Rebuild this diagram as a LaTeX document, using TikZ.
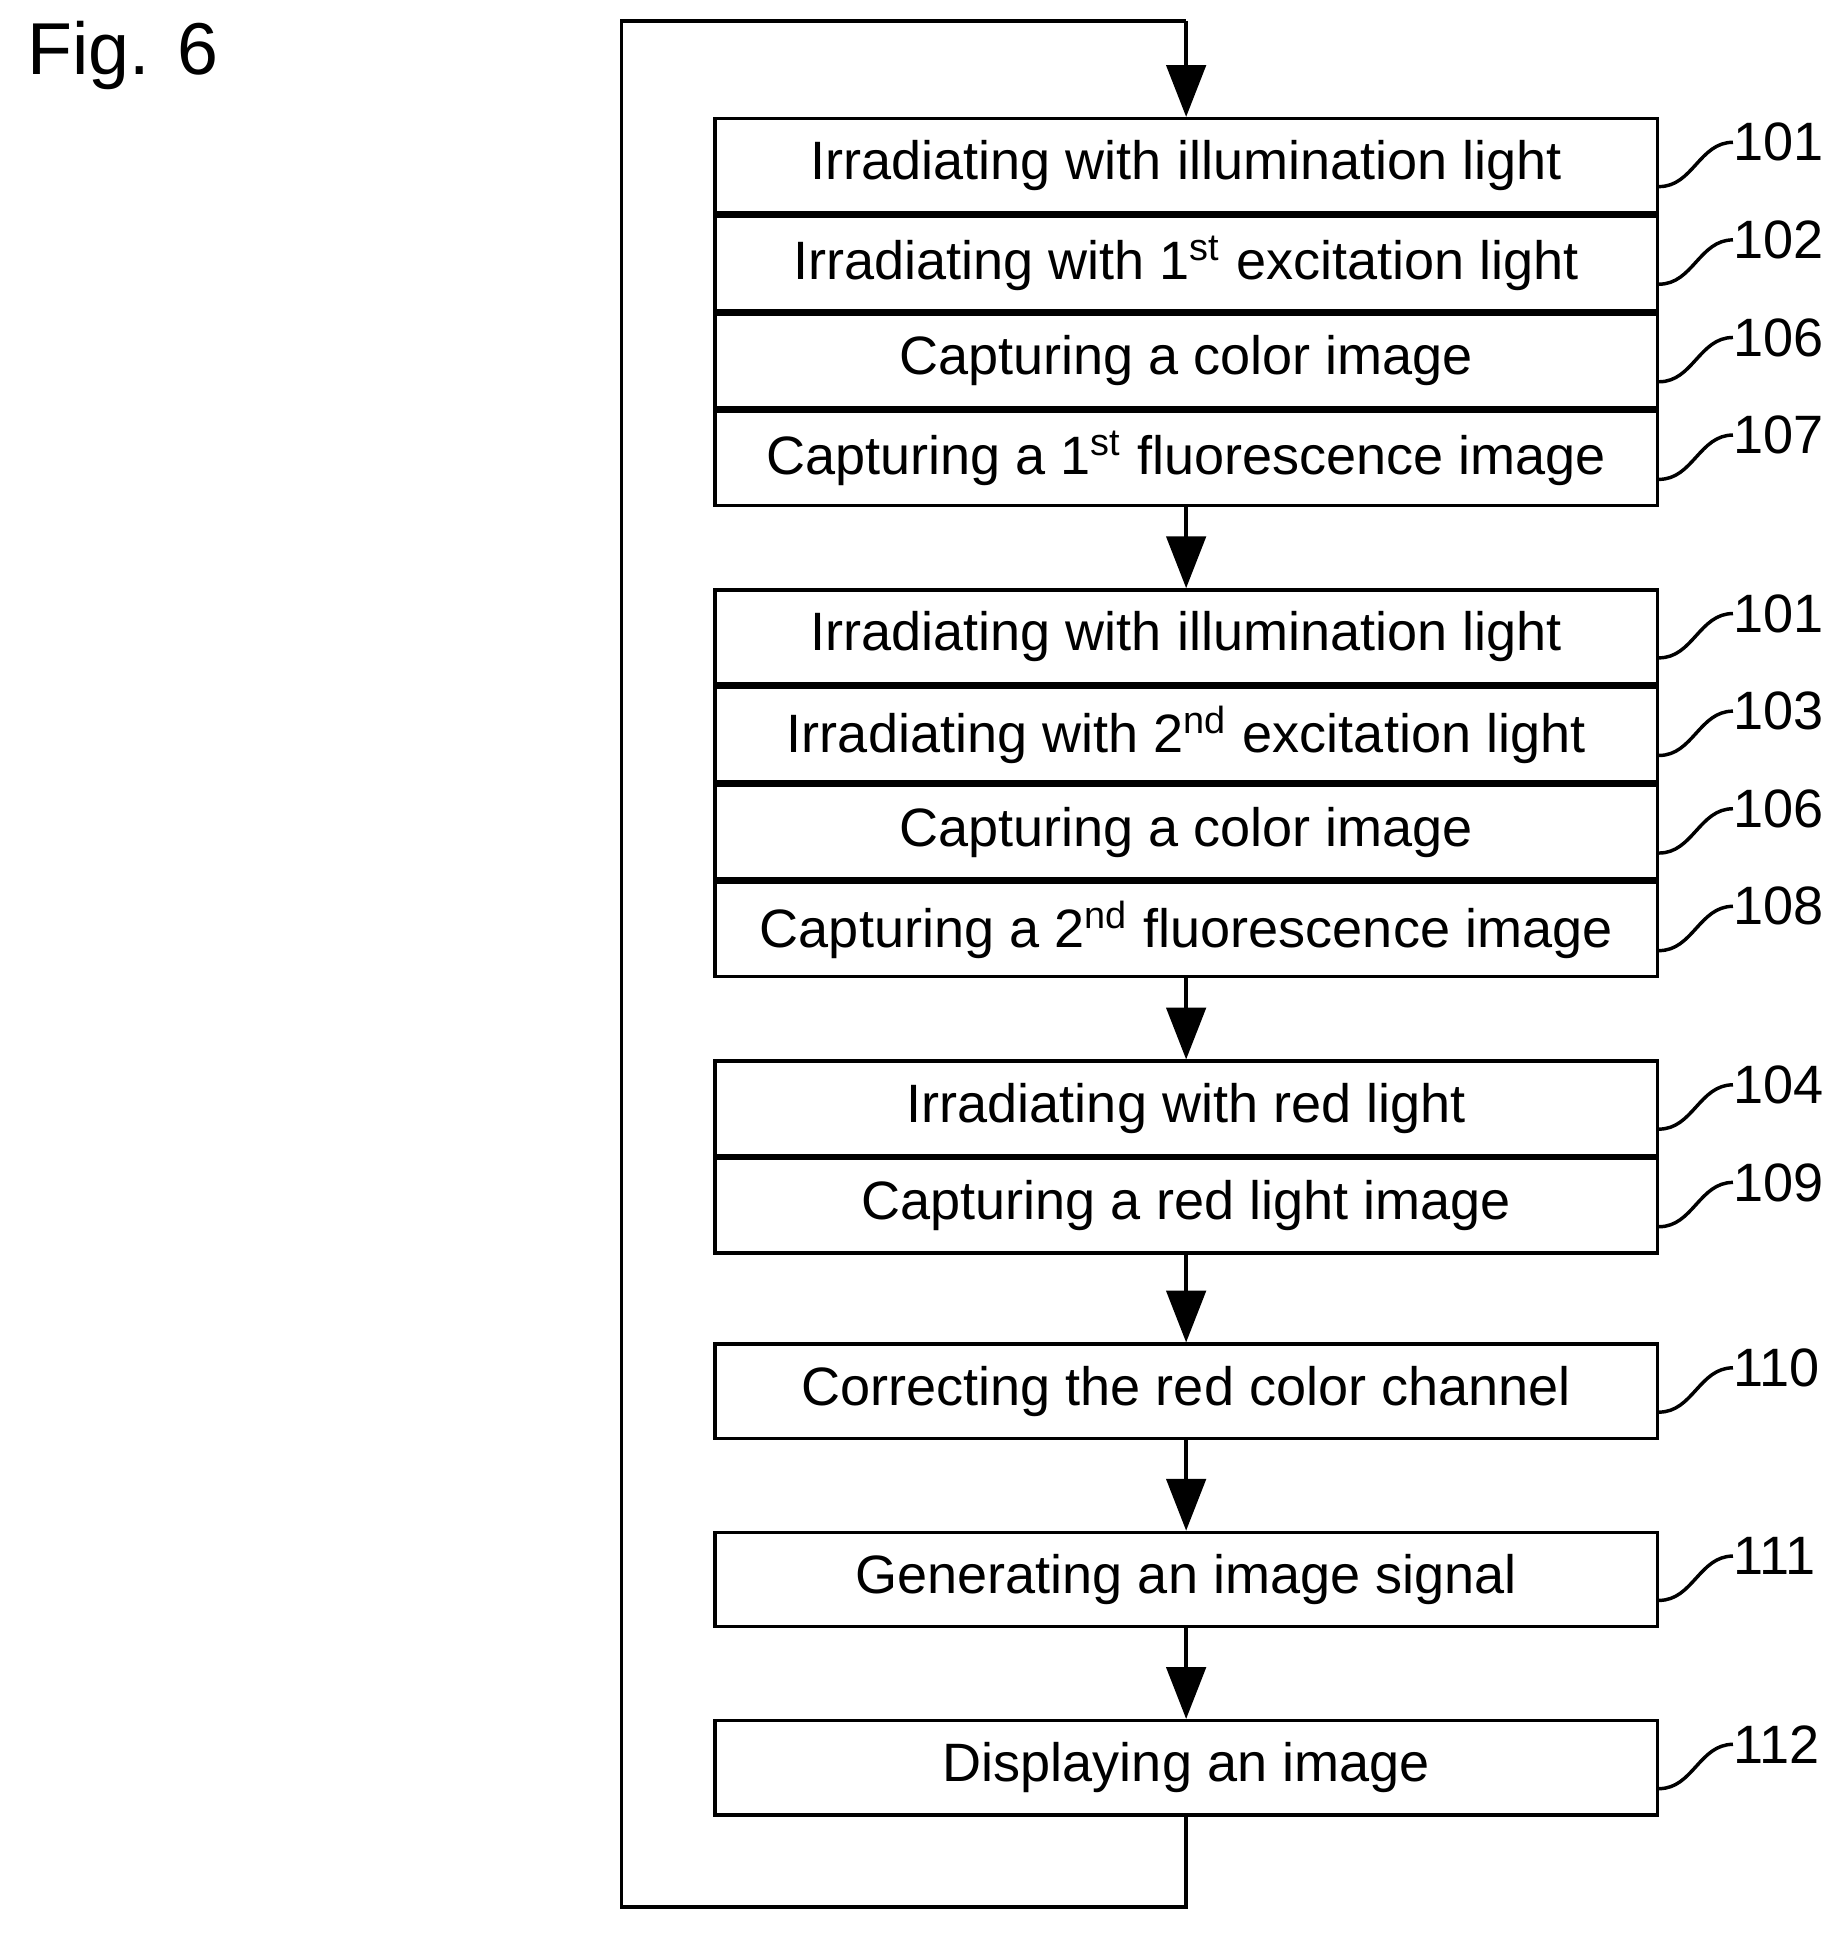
\documentclass[tikz,border=0pt]{standalone}
\usepackage{fontspec}
\setmainfont{Liberation Sans}
\usetikzlibrary{arrows.meta,positioning}
\begin{document}
\begin{tikzpicture}[
  stage/.style={draw, thick, minimum width=7.66cm, minimum height=0.765cm, inner sep=0pt, font=\fontsize{12.5}{14}\selectfont},
  ref/.style={anchor=west, inner sep=0pt, font=\fontsize{12.5}{14}\selectfont},
  flow/.style={-{Triangle[length=0.42cm,width=0.32cm]}, thick},
  lead/.style={thick},
]
\useasboundingbox (0,0) rectangle (15,-15.71);

\node[anchor=west, font=\fontsize{17}{20}\selectfont] (fig) at (0.1,-0.45) {Fig. 6};

% first group
\node[stage, anchor=north] (s101a) at (9.64,-0.95) {Irradiating with illumination light};
\node[stage, below=0pt of s101a] (s102) {Irradiating with 1\textsuperscript{st} excitation light};
\node[stage, below=0pt of s102] (s106a) {Capturing a color image};
\node[stage, below=0pt of s106a] (s107) {Capturing a 1\textsuperscript{st} fluorescence image};

% second group
\node[stage, anchor=north] (s101b) at (9.64,-4.78) {Irradiating with illumination light};
\node[stage, below=0pt of s101b] (s103) {Irradiating with 2\textsuperscript{nd} excitation light};
\node[stage, below=0pt of s103] (s106b) {Capturing a color image};
\node[stage, below=0pt of s106b] (s108) {Capturing a 2\textsuperscript{nd} fluorescence image};

% third group
\node[stage, anchor=north] (s104) at (9.64,-8.61) {Irradiating with red light};
\node[stage, below=0pt of s104] (s109) {Capturing a red light image};

\node[stage, anchor=north] (s110) at (9.64,-10.91) {Correcting the red color channel};
\node[stage, anchor=north] (s111) at (9.64,-12.44) {Generating an image signal};
\node[stage, anchor=north] (s112) at (9.64,-13.97) {Displaying an image};

% reference numbers
\foreach \s/\n in {s101a/101, s102/102, s106a/106, s107/107, s101b/101, s103/103,
                   s106b/106, s108/108, s104/104, s109/109, s110/110, s111/111, s112/112} {
  \node[ref] (n\s) at ([xshift=0.6cm,yshift=0.19cm]\s.east) {\n};
  \draw[lead] ([yshift=-0.17cm]\s.east) to[out=0,in=180] (n\s.west);
}

% flow
\draw[flow] (s107) -- (s101b);
\draw[flow] (s108) -- (s104);
\draw[flow] (s109) -- (s110);
\draw[flow] (s110) -- (s111);
\draw[flow] (s111) -- (s112);

% loop back
\coordinate (c1) at (9.64,-15.5);
\coordinate (c2) at (5.05,-15.5);
\coordinate (c3) at (5.05,-0.17);
\coordinate (c4) at (9.64,-0.17);
\draw[thick] (s112.south) -- (c1) -- (c2) -- (c3) -- (c4);
\draw[flow] (c4) -- (s101a.north);
\end{tikzpicture}
\end{document}
